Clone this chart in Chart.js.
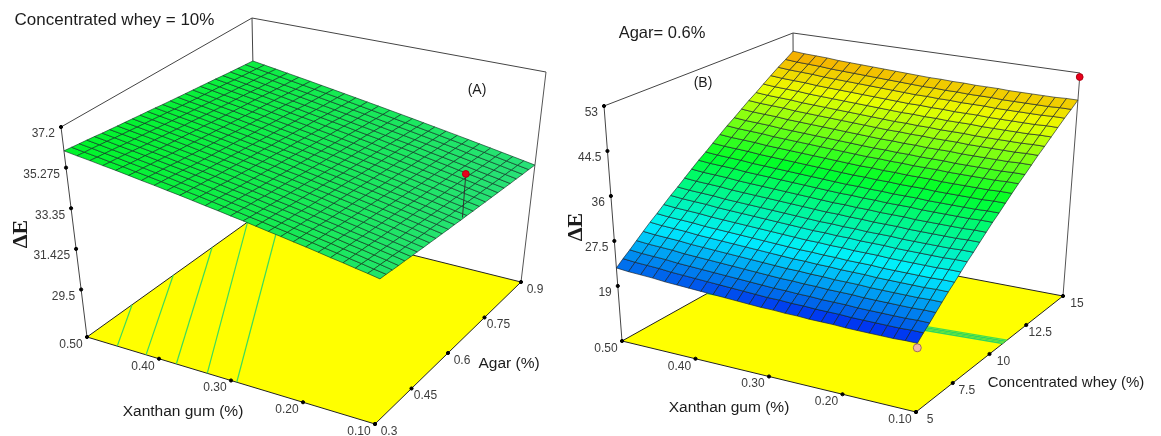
<!DOCTYPE html>
<html>
<head>
<meta charset="utf-8">
<title>Response surfaces</title>
<script src="https://cdn.jsdelivr.net/npm/chart.js@4/dist/chart.umd.min.js"></script>
<style>
  html, body { margin: 0; padding: 0; background: #fff; }
  canvas { display: block; }
</style>
</head>
<body>
<canvas id="surfaceChart" width="1161" height="436"></canvas>
<script>
// mesh positions
var xanthanGrid = [0.5,0.484,0.468,0.452,0.436,0.42,0.404,0.388,0.372,0.356,0.34,0.324,0.308,0.292,0.276,0.26,0.244,0.228,0.212,0.196,0.18,0.164,0.148,0.132,0.116,0.1];
var agarGrid = [0.3,0.324,0.348,0.372,0.396,0.42,0.444,0.468,0.492,0.516,0.54,0.564,0.588,0.612,0.636,0.66,0.684,0.708,0.732,0.756,0.78,0.804,0.828,0.852,0.876,0.9];
var wheyGrid = [5,5.4,5.8,6.2,6.6,7,7.4,7.8,8.2,8.6,9,9.4,9.8,10.2,10.6,11,11.4,11.8,12.2,12.6,13,13.4,13.8,14.2,14.6,15];

// tick labels
var xanthanTicks = ["0.50", "0.40", "0.30", "0.20", "0.10"];
var agarTicks = ["0.3", "0.45", "0.6", "0.75", "0.9"];
var wheyTicks = ["5", "7.5", "10", "12.5", "15"];
var deltaTicksA = ["29.5", "31.425", "33.35", "35.275", "37.2"];
var deltaTicksB = ["19", "27.5", "36", "44.5", "53"];

// delta E read at each mesh node, one row per agar value (concentrated whey = 10%)
var surfaceA = [
  [36.07,35.96,35.86,35.75,35.65,35.54,35.43,35.33,35.22,35.12,35.01,34.90,34.80,34.69,34.59,34.48,34.37,34.27,34.16,34.06,33.95,33.84,33.74,33.63,33.53,33.42],
  [36.03,35.92,35.82,35.71,35.61,35.50,35.40,35.29,35.19,35.08,34.98,34.87,34.76,34.66,34.55,34.45,34.34,34.24,34.13,34.03,33.92,33.82,33.71,33.61,33.50,33.40],
  [35.99,35.89,35.78,35.68,35.57,35.47,35.36,35.26,35.15,35.05,34.94,34.84,34.73,34.63,34.52,34.42,34.32,34.21,34.11,34.00,33.90,33.79,33.69,33.58,33.48,33.37],
  [35.95,35.85,35.74,35.64,35.53,35.43,35.33,35.22,35.12,35.01,34.91,34.80,34.70,34.60,34.49,34.39,34.28,34.18,34.08,33.97,33.87,33.76,33.66,33.55,33.45,33.34],
  [35.91,35.81,35.70,35.60,35.50,35.39,35.29,35.19,35.08,34.98,34.88,34.77,34.67,34.57,34.46,34.36,34.26,34.15,34.05,33.95,33.84,33.74,33.64,33.53,33.43,33.32],
  [35.86,35.76,35.65,35.55,35.45,35.35,35.24,35.14,35.04,34.93,34.83,34.73,34.63,34.52,34.42,34.32,34.22,34.11,34.01,33.91,33.80,33.70,33.60,33.50,33.39,33.29],
  [35.82,35.72,35.62,35.51,35.41,35.31,35.21,35.10,35.00,34.90,34.80,34.70,34.59,34.49,34.39,34.29,34.18,34.08,33.98,33.88,33.78,33.67,33.57,33.47,33.37,33.27],
  [35.78,35.68,35.58,35.48,35.37,35.27,35.17,35.07,34.97,34.87,34.77,34.66,34.56,34.46,34.36,34.26,34.16,34.05,33.95,33.85,33.75,33.65,33.55,33.44,33.34,33.24],
  [35.74,35.64,35.54,35.44,35.34,35.24,35.13,35.03,34.93,34.83,34.73,34.63,34.53,34.43,34.33,34.23,34.13,34.02,33.92,33.82,33.72,33.62,33.52,33.42,33.32,33.22],
  [35.70,35.60,35.50,35.40,35.30,35.20,35.10,35.00,34.90,34.80,34.70,34.60,34.50,34.40,34.30,34.20,34.10,34.00,33.90,33.80,33.70,33.60,33.50,33.40,33.29,33.19],
  [35.66,35.56,35.46,35.36,35.26,35.16,35.06,34.96,34.86,34.76,34.66,34.56,34.46,34.37,34.27,34.17,34.07,33.97,33.87,33.77,33.67,33.57,33.47,33.37,33.27,33.17],
  [35.62,35.52,35.42,35.32,35.22,35.12,35.03,34.93,34.83,34.73,34.63,34.53,34.43,34.33,34.23,34.13,34.04,33.94,33.84,33.74,33.64,33.54,33.44,33.34,33.24,33.14],
  [35.58,35.48,35.38,35.29,35.19,35.09,34.99,34.89,34.79,34.70,34.60,34.50,34.40,34.30,34.20,34.11,34.01,33.91,33.81,33.71,33.61,33.52,33.42,33.32,33.22,33.12],
  [35.53,35.43,35.34,35.24,35.14,35.04,34.94,34.85,34.75,34.65,34.55,34.46,34.36,34.26,34.16,34.06,33.97,33.87,33.77,33.67,33.58,33.48,33.38,33.28,33.18,33.09],
  [35.49,35.39,35.30,35.20,35.10,35.01,34.91,34.81,34.71,34.62,34.52,34.42,34.33,34.23,34.13,34.04,33.94,33.84,33.74,33.65,33.55,33.45,33.36,33.26,33.16,33.07],
  [35.45,35.35,35.26,35.16,35.06,34.97,34.87,34.78,34.68,34.58,34.49,34.39,34.29,34.20,34.10,34.00,33.91,33.81,33.71,33.62,33.52,33.43,33.33,33.23,33.14,33.04],
  [35.41,35.31,35.22,35.12,35.03,34.93,34.84,34.74,34.64,34.55,34.45,34.36,34.26,34.16,34.07,33.97,33.88,33.78,33.69,33.59,33.49,33.40,33.30,33.21,33.11,33.02],
  [35.37,35.27,35.18,35.08,34.99,34.89,34.80,34.70,34.61,34.51,34.42,34.32,34.23,34.13,34.04,33.94,33.85,33.75,33.66,33.56,33.47,33.37,33.28,33.18,33.09,32.99],
  [35.33,35.24,35.14,35.05,34.95,34.86,34.76,34.67,34.57,34.48,34.38,34.29,34.19,34.10,34.00,33.91,33.82,33.72,33.63,33.53,33.44,33.34,33.25,33.15,33.06,32.97],
  [35.29,35.20,35.10,35.01,34.92,34.82,34.73,34.63,34.54,34.45,34.35,34.26,34.17,34.07,33.98,33.88,33.79,33.70,33.60,33.51,33.41,33.32,33.23,33.13,33.04,32.94],
  [35.25,35.16,35.06,34.97,34.88,34.78,34.69,34.60,34.50,34.41,34.32,34.23,34.13,34.04,33.95,33.85,33.76,33.67,33.57,33.48,33.39,33.29,33.20,33.11,33.01,32.92],
  [35.20,35.11,35.01,34.92,34.83,34.74,34.64,34.55,34.46,34.37,34.27,34.18,34.09,34.00,33.90,33.81,33.72,33.63,33.53,33.44,33.35,33.26,33.16,33.07,32.98,32.89],
  [35.16,35.07,34.98,34.88,34.79,34.70,34.61,34.52,34.42,34.33,34.24,34.15,34.06,33.96,33.87,33.78,33.69,33.60,33.51,33.41,33.32,33.23,33.14,33.05,32.96,32.87],
  [35.12,35.03,34.94,34.85,34.75,34.66,34.57,34.48,34.39,34.30,34.21,34.12,34.02,33.93,33.84,33.75,33.66,33.57,33.48,33.39,33.29,33.20,33.11,33.02,32.93,32.84],
  [35.08,34.99,34.90,34.81,34.72,34.63,34.54,34.45,34.36,34.26,34.17,34.08,33.99,33.90,33.81,33.72,33.63,33.54,33.45,33.36,33.27,33.18,33.09,33.00,32.91,32.82],
  [35.04,34.95,34.86,34.77,34.68,34.59,34.50,34.41,34.32,34.23,34.14,34.05,33.96,33.87,33.78,33.69,33.60,33.51,33.42,33.33,33.24,33.15,33.06,32.97,32.88,32.79]
];

// delta E read at each mesh node, one row per whey value (agar = 0.6%)
var surfaceB = [
  [22.4,22.2,22.1,22.0,21.8,21.7,21.6,21.5,21.4,21.3,21.2,21.1,21.0,21.0,20.9,20.9,20.8,20.8,20.8,20.7,20.7,20.7,20.7,20.7,20.8,20.8],
  [23.5,23.3,23.2,23.1,22.9,22.8,22.7,22.6,22.5,22.4,22.3,22.2,22.1,22.1,22.0,22.0,21.9,21.9,21.9,21.8,21.8,21.8,21.8,21.8,21.9,21.9],
  [24.5,24.3,24.2,24.1,23.9,23.8,23.7,23.6,23.5,23.4,23.3,23.2,23.1,23.1,23.0,23.0,22.9,22.9,22.9,22.8,22.8,22.8,22.8,22.8,22.9,22.9],
  [25.6,25.4,25.3,25.2,25.0,24.9,24.8,24.7,24.6,24.5,24.4,24.3,24.2,24.2,24.1,24.1,24.0,24.0,24.0,23.9,23.9,23.9,23.9,23.9,24.0,24.0],
  [26.7,26.5,26.4,26.3,26.1,26.0,25.9,25.8,25.7,25.6,25.5,25.4,25.3,25.3,25.2,25.2,25.1,25.1,25.1,25.0,25.0,25.0,25.0,25.0,25.1,25.1],
  [27.8,27.6,27.5,27.4,27.2,27.1,27.0,26.9,26.8,26.7,26.6,26.5,26.4,26.4,26.3,26.3,26.2,26.2,26.2,26.1,26.1,26.1,26.1,26.1,26.2,26.2],
  [28.8,28.6,28.5,28.4,28.2,28.1,28.0,27.9,27.8,27.7,27.6,27.5,27.4,27.4,27.3,27.3,27.2,27.2,27.2,27.1,27.1,27.1,27.1,27.1,27.2,27.2],
  [29.9,29.7,29.6,29.5,29.3,29.2,29.1,29.0,28.9,28.8,28.7,28.6,28.5,28.5,28.4,28.4,28.3,28.3,28.3,28.2,28.2,28.2,28.2,28.2,28.3,28.3],
  [31.0,30.8,30.7,30.6,30.4,30.3,30.2,30.1,30.0,29.9,29.8,29.7,29.6,29.6,29.5,29.5,29.4,29.4,29.4,29.3,29.3,29.3,29.3,29.3,29.4,29.4],
  [32.0,31.8,31.7,31.6,31.4,31.3,31.2,31.1,31.0,30.9,30.8,30.7,30.6,30.6,30.5,30.5,30.4,30.4,30.4,30.3,30.3,30.3,30.3,30.3,30.4,30.4],
  [33.1,32.9,32.8,32.7,32.5,32.4,32.3,32.2,32.1,32.0,31.9,31.8,31.7,31.7,31.6,31.6,31.5,31.5,31.5,31.4,31.4,31.4,31.4,31.4,31.5,31.5],
  [34.2,34.0,33.9,33.8,33.6,33.5,33.4,33.3,33.2,33.1,33.0,32.9,32.8,32.8,32.7,32.7,32.6,32.6,32.6,32.5,32.5,32.5,32.5,32.5,32.6,32.6],
  [35.3,35.1,35.0,34.9,34.7,34.6,34.5,34.4,34.3,34.2,34.1,34.0,33.9,33.9,33.8,33.8,33.7,33.7,33.7,33.6,33.6,33.6,33.6,33.6,33.7,33.7],
  [36.3,36.1,36.0,35.9,35.7,35.6,35.5,35.4,35.3,35.2,35.1,35.0,34.9,34.9,34.8,34.8,34.7,34.7,34.7,34.6,34.6,34.6,34.6,34.6,34.7,34.7],
  [37.4,37.2,37.1,37.0,36.8,36.7,36.6,36.5,36.4,36.3,36.2,36.1,36.0,36.0,35.9,35.9,35.8,35.8,35.8,35.7,35.7,35.7,35.7,35.7,35.8,35.8],
  [38.5,38.3,38.2,38.1,37.9,37.8,37.7,37.6,37.5,37.4,37.3,37.2,37.1,37.1,37.0,37.0,36.9,36.9,36.9,36.8,36.8,36.8,36.8,36.8,36.9,36.9],
  [39.6,39.4,39.3,39.2,39.0,38.9,38.8,38.7,38.6,38.5,38.4,38.3,38.2,38.2,38.1,38.1,38.0,38.0,38.0,37.9,37.9,37.9,37.9,37.9,38.0,38.0],
  [40.6,40.4,40.3,40.2,40.0,39.9,39.8,39.7,39.6,39.5,39.4,39.3,39.2,39.2,39.1,39.1,39.0,39.0,39.0,38.9,38.9,38.9,38.9,38.9,39.0,39.0],
  [41.7,41.5,41.4,41.3,41.1,41.0,40.9,40.8,40.7,40.6,40.5,40.4,40.3,40.3,40.2,40.2,40.1,40.1,40.1,40.0,40.0,40.0,40.0,40.0,40.1,40.1],
  [42.8,42.6,42.5,42.4,42.2,42.1,42.0,41.9,41.8,41.7,41.6,41.5,41.4,41.4,41.3,41.3,41.2,41.2,41.2,41.1,41.1,41.1,41.1,41.1,41.2,41.2],
  [43.8,43.6,43.5,43.4,43.2,43.1,43.0,42.9,42.8,42.7,42.6,42.5,42.4,42.4,42.3,42.3,42.2,42.2,42.2,42.1,42.1,42.1,42.1,42.1,42.2,42.2],
  [44.9,44.7,44.6,44.5,44.3,44.2,44.1,44.0,43.9,43.8,43.7,43.6,43.5,43.5,43.4,43.4,43.3,43.3,43.3,43.2,43.2,43.2,43.2,43.2,43.3,43.3],
  [46.0,45.8,45.7,45.6,45.4,45.3,45.2,45.1,45.0,44.9,44.8,44.7,44.6,44.6,44.5,44.5,44.4,44.4,44.4,44.3,44.3,44.3,44.3,44.3,44.4,44.4],
  [47.1,46.9,46.8,46.7,46.5,46.4,46.3,46.2,46.1,46.0,45.9,45.8,45.7,45.7,45.6,45.6,45.5,45.5,45.5,45.4,45.4,45.4,45.4,45.4,45.5,45.5],
  [48.1,47.9,47.8,47.7,47.5,47.4,47.3,47.2,47.1,47.0,46.9,46.8,46.7,46.7,46.6,46.6,46.5,46.5,46.5,46.4,46.4,46.4,46.4,46.4,46.5,46.5],
  [49.2,49.0,48.9,48.8,48.6,48.5,48.4,48.3,48.2,48.1,48.0,47.9,47.8,47.8,47.7,47.7,47.6,47.6,47.6,47.5,47.5,47.5,47.5,47.5,47.6,47.6]
];

// contour lines on the floor, [front end, far end] of each
var contourXanthanA = [[0.458,0.5],[0.418,0.5],[0.376,0.5],[0.333,0.5],[0.292,0.465]];
var contourAgarA = [[0.3,0.46],[0.3,0.606],[0.3,0.744],[0.3,0.87],[0.3,0.9]];
var contourWheyStartB = [9.95,10.05,10.15,10.25];
var contourWheyEndB = [10.9,11,11.1,11.2];

// design points: xanthan, second factor, delta E, delta E on the surface below
var designPointA = [0.1, 0.618, 35.11, 33.15];
var designPointHighB = [0.1, 15, 52.2];
var designPointLowB = [0.1, 5, 20.0];

// how each panel sits on the page, corners go left, front, right, back
var viewA = {
  floor: [[87,337],[375,424],[521,282],[256,216]],
  top: [[61,127],[383,190],[546,72],[252,18]],
  yMin: 0.3, yMax: 0.9, zFloor: 27.25, zTop: 37.2
};
var viewB = {
  floor: [[622,341],[916,412],[1063,296],[794,245]],
  top: [[604,106],[921,162],[1080,73],[793,33]],
  yMin: 5, yMax: 15, zFloor: 8.6, zTop: 53
};

var coloursA = [[32.8,40,225,120],[36.1,0,245,40]];
var coloursB = [[20.6,0,30,245],[22.4,0,100,235],[27.5,0,240,255],[36,0,255,40],[44.5,235,255,0],[53,255,90,0]];

// the tick marks are evenly spaced along the box edges, so a bilinear map fits best
function quadMap(q) {
  return function (u, v) {
    return [0, 1].map(function (k) {
      return q[0][k] * (1 - u) * (1 - v) + q[1][k] * u * (1 - v) + q[2][k] * u * v + q[3][k] * (1 - u) * v;
    });
  };
}

function makeProjection(view) {
  var floor = quadMap(view.floor);
  var top = quadMap(view.top);
  return function (xanthan, second, z) {
    var u = (0.5 - xanthan) / 0.4;
    var v = (second - view.yMin) / (view.yMax - view.yMin);
    var t = (z - view.zFloor) / (view.zTop - view.zFloor);
    var a = floor(u, v), b = top(u, v);
    return { x: a[0] + (b[0] - a[0]) * t, y: a[1] + (b[1] - a[1]) * t };
  };
}

function colourFor(z, stops) {
  for (var i = 1; i < stops.length; i++) {
    if (z <= stops[i][0] || i === stops.length - 1) {
      var f = Math.max(0, Math.min(1, (z - stops[i - 1][0]) / (stops[i][0] - stops[i - 1][0])));
      var rgb = [1, 2, 3].map(function (k) {
        return Math.round(stops[i - 1][k] + (stops[i][k] - stops[i - 1][k]) * f);
      });
      return "rgb(" + rgb.join(",") + ")";
    }
  }
}

var datasets = [];
var tickTexts = [];

function addLine(points, colour, width) {
  datasets.push({ data: points, showLine: true, fill: false, borderColor: colour, borderWidth: width, pointRadius: 0 });
}

function addDots(points, fillColour, edgeColour, radius) {
  datasets.push({ data: points, showLine: false, pointRadius: radius, pointBackgroundColor: fillColour, pointBorderColor: edgeColour, pointBorderWidth: 1 });
}

function addShape(points, fillColour, edgeColour, width) {
  datasets.push({ data: points, showLine: true, fill: "shape", backgroundColor: fillColour, borderColor: edgeColour, borderWidth: width, pointRadius: 0 });
}

// floor, box edges, ticks and their labels are the same for both panels
function addBox(view, project, secondGrid, secondTicks, deltaTicks) {
  var lo = secondGrid[0], hi = secondGrid[secondGrid.length - 1];
  var zf = view.zFloor, zt = view.zTop;
  addShape([project(0.5, lo, zf), project(0.1, lo, zf), project(0.1, hi, zf), project(0.5, hi, zf), project(0.5, lo, zf)], "#ffff00", "#222", 1);
  addLine([project(0.5, lo, zt), project(0.5, hi, zt), project(0.1, hi, zt)], "#444", 1);
  addLine([project(0.5, hi, zf), project(0.5, hi, zt)], "#444", 1);
  addLine([project(0.5, lo, zf), project(0.5, lo, zt)], "#444", 1);
  addLine([project(0.1, hi, zf), project(0.1, hi, zt)], "#555", 1);

  var marks = [];
  xanthanTicks.forEach(function (label) {
    var p = project(parseFloat(label), lo, zf);
    marks.push(p);
    tickTexts.push({ text: label, x: p.x - 16, y: p.y + 7.5, align: "center" });
  });
  secondTicks.forEach(function (label) {
    var p = project(0.1, parseFloat(label), zf);
    marks.push(p);
    tickTexts.push({ text: label, x: p.x + 14, y: p.y + 7.5, align: "center" });
  });
  deltaTicks.forEach(function (label) {
    var p = project(0.5, lo, parseFloat(label));
    marks.push(p);
    tickTexts.push({ text: label, x: p.x - 6, y: p.y + 7, align: "right" });
  });
  return marks;
}

function addSurface(project, secondGrid, surface, stops, edgeColour) {
  for (var j = 0; j < secondGrid.length - 1; j++) {
    for (var i = 0; i < xanthanGrid.length - 1; i++) {
      var avg = (surface[j][i] + surface[j][i + 1] + surface[j + 1][i] + surface[j + 1][i + 1]) / 4;
      addShape([
        project(xanthanGrid[i], secondGrid[j], surface[j][i]),
        project(xanthanGrid[i + 1], secondGrid[j], surface[j][i + 1]),
        project(xanthanGrid[i + 1], secondGrid[j + 1], surface[j + 1][i + 1]),
        project(xanthanGrid[i], secondGrid[j + 1], surface[j + 1][i]),
        project(xanthanGrid[i], secondGrid[j], surface[j][i])
      ], colourFor(avg, stops), edgeColour, 0.7);
    }
  }
}

// panel A
var projectA = makeProjection(viewA);
var marksA = addBox(viewA, projectA, agarGrid, agarTicks, deltaTicksA);
contourXanthanA.forEach(function (xs, n) {
  addLine([projectA(xs[0], contourAgarA[n][0], viewA.zFloor), projectA(xs[1], contourAgarA[n][1], viewA.zFloor)], "#3ddc5a", 1.2);
});
addDots(marksA, "#000", "#000", 1.6);
addSurface(projectA, agarGrid, surfaceA, coloursA, "rgba(15,50,35,0.9)");
addLine([projectA(designPointA[0], designPointA[1], designPointA[2]), projectA(designPointA[0], designPointA[1], designPointA[3])], "#333", 1);
addDots([projectA(designPointA[0], designPointA[1], designPointA[2])], "#e8001c", "#b00010", 3.4);

// panel B
var projectB = makeProjection(viewB);
var marksB = addBox(viewB, projectB, wheyGrid, wheyTicks, deltaTicksB);
contourWheyStartB.forEach(function (w, n) {
  addLine([projectB(0.5, w, viewB.zFloor), projectB(0.1, contourWheyEndB[n], viewB.zFloor)], n % 2 ? "#46e04a" : "#2fd65e", 1.4);
});
addDots(marksB, "#000", "#000", 1.6);
addDots([projectB(designPointLowB[0], designPointLowB[1], designPointLowB[2])], "#f2b8a8", "#a06a60", 4);
addSurface(projectB, wheyGrid, surfaceB, coloursB, "rgba(20,30,40,0.9)");
addDots([projectB(designPointHighB[0], designPointHighB[1], designPointHighB[2])], "#e8001c", "#b00010", 3.4);

// later datasets have to paint over the earlier ones
datasets.forEach(function (d, n) { d.order = -n; });

var axisTexts = [
  { text: "Concentrated whey = 10%", x: 114.5, y: 20, size: 17 },
  { text: "(A)", x: 477, y: 90, size: 14 },
  { text: "Xanthan gum (%)", x: 183, y: 412, size: 15.5 },
  { text: "Agar (%)", x: 509, y: 364, size: 15.5 },
  { text: "Agar= 0.6%", x: 662, y: 33, size: 16.5 },
  { text: "(B)", x: 703, y: 83, size: 14 },
  { text: "Xanthan gum (%)", x: 729, y: 408, size: 15.5 },
  { text: "Concentrated whey (%)", x: 1066, y: 383, size: 15 }
];
var deltaLabels = [{ x: 21, y: 234 }, { x: 576, y: 227 }];

var textPlugin = {
  id: "panelTexts",
  afterDraw: function (chart) {
    var ctx = chart.ctx;
    ctx.save();
    ctx.textBaseline = "middle";
    ctx.fillStyle = "#3c3c3c";
    ctx.font = "12px 'Liberation Sans'";
    tickTexts.forEach(function (t) {
      ctx.textAlign = t.align;
      ctx.fillText(t.text, t.x, t.y);
    });
    ctx.fillStyle = "#1c1c1c";
    ctx.textAlign = "center";
    axisTexts.forEach(function (t) {
      ctx.font = t.size + "px 'Liberation Sans'";
      ctx.fillText(t.text, t.x, t.y);
    });
    ctx.font = "bold 22px 'Liberation Serif'";
    deltaLabels.forEach(function (t) {
      ctx.save();
      ctx.translate(t.x, t.y);
      ctx.rotate(-Math.PI / 2);
      ctx.fillText("\u0394E", 0, 0);
      ctx.restore();
    });
    ctx.restore();
  }
};

var ctx = document.getElementById("surfaceChart").getContext("2d");
new Chart(ctx, {
  type: "scatter",
  data: { datasets: datasets },
  options: {
    responsive: false,
    animation: false,
    parsing: false,
    normalized: false,
    layout: { padding: 0, autoPadding: false },
    plugins: { legend: { display: false }, tooltip: { enabled: false }, title: { display: false } },
    scales: {
      x: { type: "linear", display: false, min: 0, max: 1161 },
      y: { type: "linear", display: false, min: 0, max: 436, reverse: true }
    }
  },
  plugins: [textPlugin]
});
</script>
</body>
</html>
